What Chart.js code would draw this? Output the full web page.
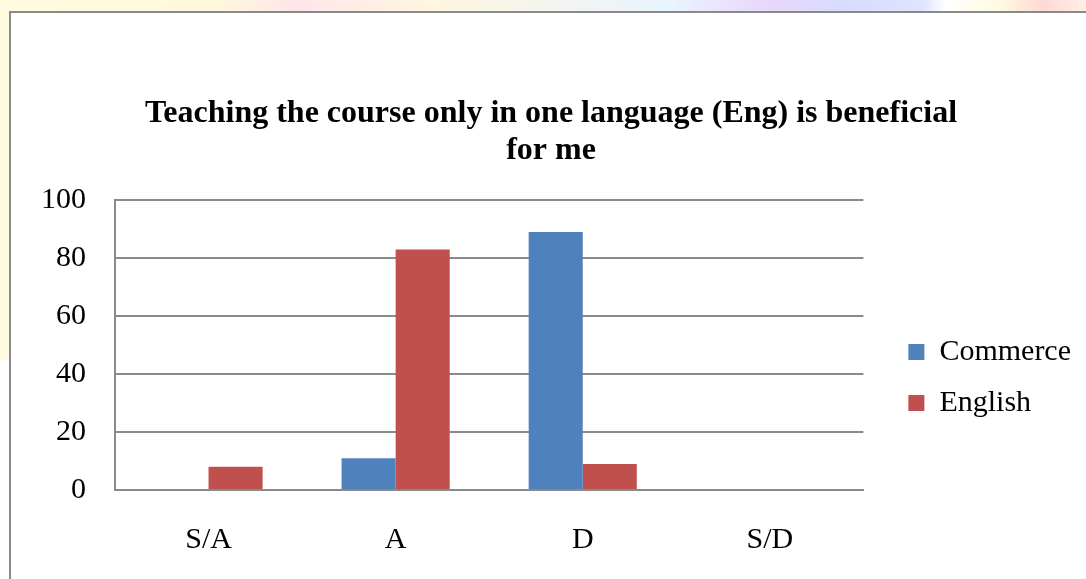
<!DOCTYPE html>
<html lang="en">
<head>
    <meta charset="UTF-8">
    <title>Teaching the course only in one language (Eng) is beneficial for me</title>
    <script src="https://cdn.jsdelivr.net/npm/chart.js"></script>
    <style>
        html, body {
            margin: 0;
            padding: 0;
            width: 1086px;
            height: 579px;
            overflow: hidden;
            background-color: #ffffff;
        }
        .strip-top {
            position: absolute;
            left: 0;
            top: 0;
            width: 1086px;
            height: 12px;
            background: linear-gradient(to right, #fffbe0 0%, #fff8dc 20%, #ffe6ea 27%, #fff6e0 40%, #e8f4ff 62%, #ead8fb 70%, #d8dcff 78%, #dfe4ff 85%, #ffffff 87%, #fffbe0 92%, #ffd8d4 96%, #fff0e8 100%);
        }
        .strip-left {
            position: absolute;
            left: 0;
            top: 0;
            width: 10px;
            height: 360px;
            background-color: #fffbe0;
        }
        .frame {
            position: absolute;
            left: 9px;
            top: 11px;
            width: 1090px;
            height: 740px;
            border: 2px solid #8a8a8a;
            background-color: #ffffff;
        }
        .chart-box {
            position: relative;
            width: 1080px;
            height: 729px;
        }
    </style>
</head>
<body>
    <div class="strip-top"></div>
    <div class="strip-left"></div>
    <div class="frame">
        <div class="chart-box">
            <canvas id="myChart"></canvas>
        </div>
    </div>

    <script>
        const categories = ['S/A', 'A', 'D', 'S/D'];
        const commerceValues = [0, 11, 89, 0];
        const englishValues = [8, 83, 9, 0];
        const titleLines = ['Teaching the course only in one language (Eng) is beneficial', 'for me'];

        Chart.defaults.font.family = '"Liberation Serif", "Times New Roman", serif';
        Chart.defaults.color = '#000000';

        const ctx = document.getElementById('myChart').getContext('2d');
        const myChart = new Chart(ctx, {
            type: 'bar',
            data: {
                labels: categories,
                datasets: [{
                    label: 'Commerce',
                    data: commerceValues,
                    backgroundColor: '#4f81bd',
                    borderWidth: 0
                }, {
                    label: 'English',
                    data: englishValues,
                    backgroundColor: '#c0504d',
                    borderWidth: 0
                }]
            },
            options: {
                responsive: true,
                maintainAspectRatio: false,
                animation: false,
                layout: {
                    padding: { left: 10, right: 10, top: 0, bottom: 0 }
                },
                datasets: {
                    bar: {
                        categoryPercentage: 0.578,
                        barPercentage: 1
                    }
                },
                plugins: {
                    title: {
                        display: true,
                        text: titleLines,
                        font: { size: 32, weight: 'bold', lineHeight: 1.16 },
                        padding: { top: 82, bottom: 31 }
                    },
                    legend: {
                        position: 'right',
                        align: 'center',
                        maxWidth: 300,
                        labels: {
                            boxWidth: 16,
                            boxHeight: 16,
                            padding: 21,
                            font: { size: 30 }
                        }
                    },
                    tooltip: { enabled: false }
                },
                scales: {
                    x: {
                        grid: { display: false },
                        border: { display: true, color: '#8a8a8a', width: 2 },
                        ticks: { padding: 24, font: { size: 30 } },
                        afterFit: function (scale) { scale.height = 252; }
                    },
                    y: {
                        min: 0,
                        max: 100,
                        ticks: { stepSize: 20, padding: 29, font: { size: 30 } },
                        grid: { color: '#8a8a8a', lineWidth: 2, drawTicks: false },
                        border: { display: true, color: '#8a8a8a', width: 2 },
                        afterFit: function (scale) { scale.width = 94; }
                    },
                    gap: {
                        type: 'linear',
                        position: 'right',
                        display: true,
                        grid: { display: false },
                        border: { display: false },
                        ticks: { display: false },
                        afterFit: function (scale) { scale.width = 24; }
                    }
                }
            }
        });
    </script>
</body>
</html>
